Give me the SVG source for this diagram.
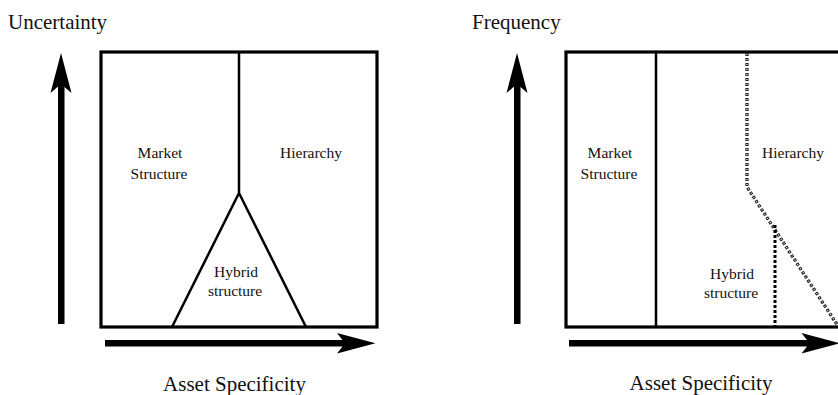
<svg xmlns="http://www.w3.org/2000/svg" width="838" height="395" viewBox="0 0 838 395">
<style>
  .t { font-family: "Liberation Serif", "Times New Roman", serif; fill: #111; }
  .ax { font-size: 21px; }
  .lb { font-size: 15.5px; text-anchor: middle; }
  .box { fill: none; stroke: #000; stroke-width: 3.2; }
  .ln { fill: none; stroke: #000; stroke-width: 2.5; }
  .arr { fill: #000; stroke: none; }
</style>
<rect width="838" height="395" fill="#fff"/>

<!-- Left panel -->
<g id="left-panel">
  <text class="t ax" x="8" y="29">Uncertainty</text>
  <g id="left-y-axis">
    <rect class="arr" x="58" y="84" width="6.5" height="240"/>
    <polygon class="arr" points="61,53 71.5,93 61,84 50.5,93"/>
  </g>
  <g id="left-x-axis">
    <rect class="arr" x="105" y="340" width="242" height="6.5"/>
    <polygon class="arr" points="375.5,343.2 337,353.5 345,343.2 337,333"/>
  </g>
  <text class="t ax" x="234.5" y="391" text-anchor="middle">Asset Specificity</text>
  <rect class="box" x="101" y="52" width="276" height="275"/>
</g>
<g id="left-connectors">
  <path class="ln" d="M239,52 V193 L172,327 M239,193 L306,327"/>
</g>
<g id="left-market"><text class="t lb" x="160" y="158">Market</text><text class="t lb" x="159" y="179">Structure</text></g>
<g id="left-hierarchy"><text class="t lb" x="311" y="158">Hierarchy</text></g>
<g id="left-hybrid"><text class="t lb" x="236" y="277">Hybrid</text><text class="t lb" x="235" y="296">structure</text></g>

<!-- Right panel -->
<g id="right-panel">
  <text class="t ax" x="472" y="29">Frequency</text>
  <g id="right-y-axis">
    <rect class="arr" x="514" y="84" width="6.5" height="240"/>
    <polygon class="arr" points="517,53 527.5,93 517,84 506.5,93"/>
  </g>
  <g id="right-x-axis">
    <rect class="arr" x="569" y="340" width="242" height="6.5"/>
    <polygon class="arr" points="840,343.2 801.5,353.5 809.5,343.2 801.5,333"/>
  </g>
  <text class="t ax" x="701" y="390" text-anchor="middle">Asset Specificity</text>
  <rect class="box" x="566" y="52" width="290" height="275"/>
</g>
<g id="right-connectors">
  <path class="ln" d="M656,52 V327"/>
  <path d="M747,53 V187 L838,326" fill="none" stroke="#222" stroke-width="3.2" stroke-dasharray="3 2"/>
  <path d="M747,53 V187 L838,326" fill="none" stroke="#fff" stroke-width="1.2" stroke-dasharray="1 4" stroke-dashoffset="-1"/>
  <path d="M775,225 V327" fill="none" stroke="#000" stroke-width="3" stroke-dasharray="3 2"/>
</g>
<g id="right-market"><text class="t lb" x="610" y="158">Market</text><text class="t lb" x="609" y="179">Structure</text></g>
<g id="right-hierarchy"><text class="t lb" x="793" y="158">Hierarchy</text></g>
<g id="right-hybrid"><text class="t lb" x="732" y="279">Hybrid</text><text class="t lb" x="731" y="298">structure</text></g>
</svg>
